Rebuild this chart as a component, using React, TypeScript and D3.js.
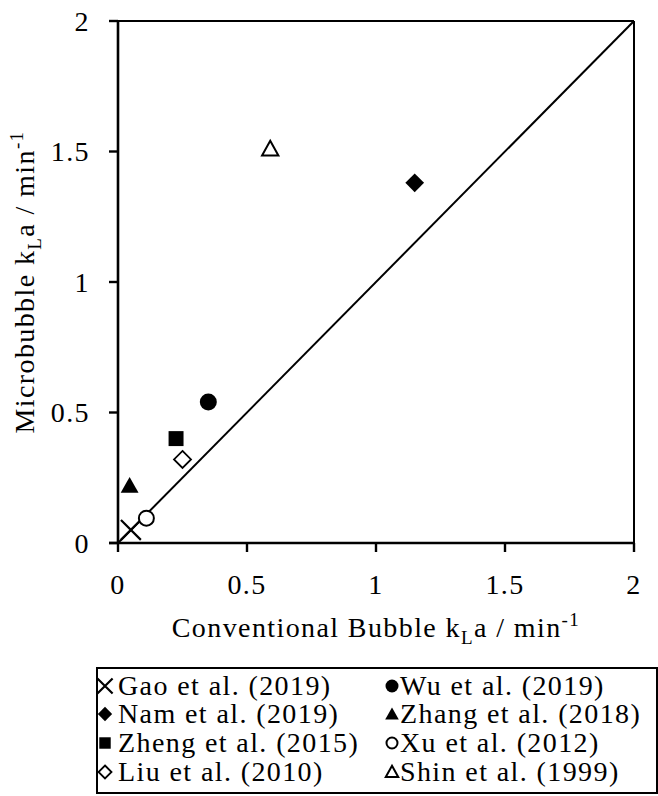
import React from "react";
import * as d3 from "d3";

// Study labels and their kLa pairs (conventional bubble vs microbubble), min^-1
const studies = [
  "Gao et al. (2019)",
  "Wu et al. (2019)",
  "Nam et al. (2019)",
  "Zhang et al. (2018)",
  "Zheng et al. (2015)",
  "Xu et al. (2012)",
  "Liu et al. (2010)",
  "Shin et al. (1999)",
];
const conventionalKla = [0.05, 0.35, 1.15, 0.045, 0.225, 0.11, 0.25, 0.59];
const microbubbleKla = [0.05, 0.54, 1.38, 0.22, 0.4, 0.095, 0.32, 1.51];
const markerKinds = [
  "cross",
  "circle",
  "diamond",
  "triangle",
  "square",
  "circleOpen",
  "diamondOpen",
  "triangleOpen",
];
const tickValues = [0, 0.5, 1, 1.5, 2];
const parityLine = [0, 2];

const W = 658;
const H = 796;
const M = { left: 118, right: 634, top: 21, bottom: 543 };
const FONT = "Liberation Serif, Tinos, Times New Roman, Times, serif";
const FS = 28;
const LS = 1.4;

const x = d3.scaleLinear().domain([0, 2]).range([M.left, M.right]);
const y = d3.scaleLinear().domain([0, 2]).range([M.bottom, M.top]);

function Marker({ kind, cx, cy, s }: { kind: string; cx: number; cy: number; s: number }) {
  const t = `translate(${cx},${cy})`;
  switch (kind) {
    case "cross": {
      const p = d3.symbol().type(d3.symbolTimes).size(s * s * 0.9)();
      return <path d={p || ""} transform={t} fill="none" stroke="#000" strokeWidth={2.2} />;
    }
    case "circle":
      return <circle cx={cx} cy={cy} r={s / 2} fill="#000" />;
    case "circleOpen":
      return <circle cx={cx} cy={cy} r={s / 2 - 1} fill="#fff" stroke="#000" strokeWidth={2} />;
    case "square":
      return <rect x={cx - s * 0.44} y={cy - s * 0.44} width={s * 0.88} height={s * 0.88} fill="#000" />;
    case "diamond": {
      const h = s * 0.55;
      return <path d={`M0,${-h}L${h},0L0,${h}L${-h},0Z`} transform={t} fill="#000" />;
    }
    case "diamondOpen": {
      const h = s * 0.5;
      return <path d={`M0,${-h}L${h},0L0,${h}L${-h},0Z`} transform={t} fill="#fff" stroke="#000" strokeWidth={1.8} />;
    }
    case "triangle": {
      const h = s * 0.5;
      return <path d={`M0,${-h}L${h * 1.05},${h * 0.85}L${-h * 1.05},${h * 0.85}Z`} transform={t} fill="#000" />;
    }
    case "triangleOpen": {
      const h = s * 0.48;
      return <path d={`M0,${-h}L${h},${h * 0.8}L${-h},${h * 0.8}Z`} transform={t} fill="#fff" stroke="#000" strokeWidth={2} />;
    }
    default:
      return null;
  }
}

function Label({ children, ...rest }: any) {
  return (
    <text fontFamily={FONT} fontSize={FS} letterSpacing={LS} {...rest}>
      {children}
    </text>
  );
}

export default function App() {
  const line = d3
    .line<number>()
    .x((d) => x(d))
    .y((d) => y(d));

  const legendRows = [686, 714, 743, 772];
  const legendCols = [{ mx: 105, tx: 118 }, { mx: 392, tx: 400 }];

  return (
    <svg width={W} height={H} style={{ position: "absolute", left: 0, top: 0, background: "#fff" }}>
      <rect width={W} height={H} fill="#fff" />

      {/* plot frame */}
      <line x1={M.left} x2={M.right} y1={M.top} y2={M.top} stroke="#000" strokeWidth={2} />
      <line x1={M.right} x2={M.right} y1={M.top} y2={M.bottom} stroke="#000" strokeWidth={2} />

      {/* parity line */}
      <path d={line(parityLine) || ""} fill="none" stroke="#000" strokeWidth={2} />

      {/* y axis */}
      <line x1={M.left} x2={M.left} y1={M.top} y2={M.bottom} stroke="#000" strokeWidth={2.6} />
      {tickValues.map((v) => (
        <g key={"y" + v}>
          <line x1={M.left - 9} x2={M.left} y1={y(v)} y2={y(v)} stroke="#000" strokeWidth={2.4} />
          <Label x={90} y={y(v)} dy="0.34em" textAnchor="end">
            {String(v)}
          </Label>
        </g>
      ))}

      {/* x axis */}
      <line x1={M.left - 9} x2={M.right} y1={M.bottom} y2={M.bottom} stroke="#000" strokeWidth={2.6} />
      {tickValues.map((v) => (
        <g key={"x" + v}>
          <line x1={x(v)} x2={x(v)} y1={M.bottom} y2={M.bottom + 9} stroke="#000" strokeWidth={2.4} />
          <Label x={x(v)} y={594} textAnchor="middle">
            {String(v)}
          </Label>
        </g>
      ))}

      {/* axis titles */}
      <Label x={(M.left + M.right) / 2} y={637} textAnchor="middle">
        Conventional Bubble k
        <tspan fontSize={19} dy={7}>L</tspan>
        <tspan dy={-7}>a / min</tspan>
        <tspan fontSize={19} dy={-11}>-1</tspan>
      </Label>
      <Label transform={`translate(34,${(M.top + M.bottom) / 2}) rotate(-90)`} textAnchor="middle">
        Microbubble k
        <tspan fontSize={19} dy={7}>L</tspan>
        <tspan dy={-7}>a / min</tspan>
        <tspan fontSize={19} dy={-11}>-1</tspan>
      </Label>

      {/* data points */}
      {studies.map((s, i) => (
        <Marker key={s} kind={markerKinds[i]} cx={x(conventionalKla[i])} cy={y(microbubbleKla[i])} s={17} />
      ))}

      {/* legend */}
      <rect x={97} y={668} width={560} height={125} fill="#fff" stroke="#000" strokeWidth={2} />
      {studies.map((s, i) => {
        const col = legendCols[i % 2];
        const cy = legendRows[Math.floor(i / 2)];
        return (
          <g key={"lg" + s}>
            <Marker kind={markerKinds[i]} cx={col.mx} cy={cy} s={13} />
            <Label x={col.tx} y={cy + 9}>
              {s}
            </Label>
          </g>
        );
      })}
    </svg>
  );
}
